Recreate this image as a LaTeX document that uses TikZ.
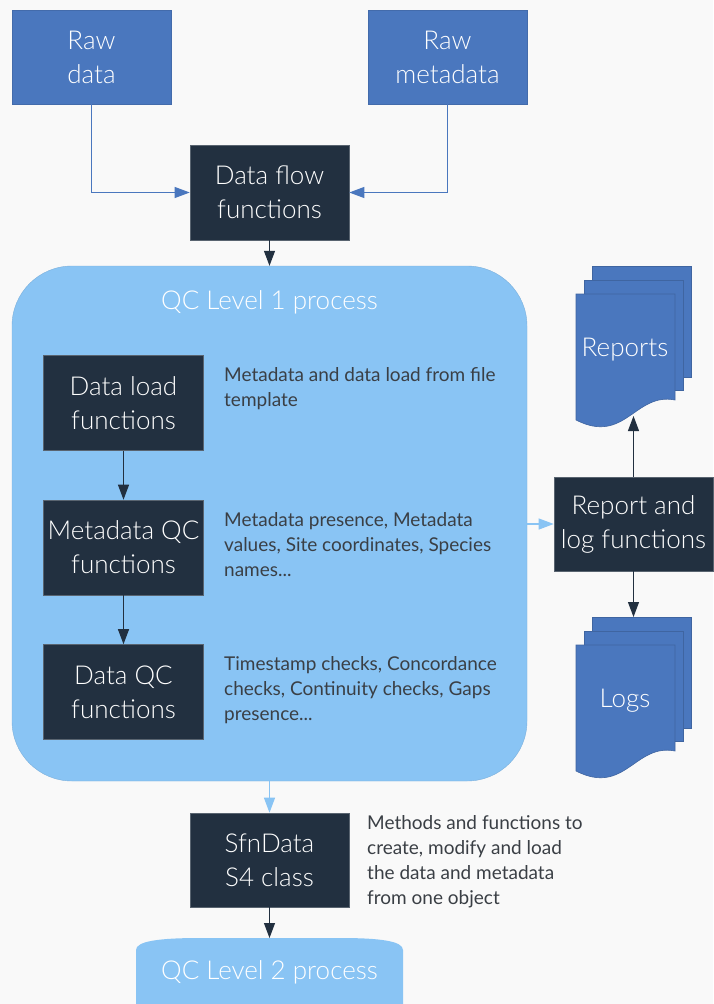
\documentclass[tikz,border=0pt]{standalone}
\usepackage{fontspec}
\setmainfont{Lato}
\newfontfamily\lightfont{Lato Light}
\usetikzlibrary{arrows.meta}
\definecolor{bg}{HTML}{F9F9F9}
\definecolor{rawblue}{HTML}{4A77BE}
\definecolor{navy}{HTML}{223040}
\definecolor{sky}{HTML}{89C4F4}
\definecolor{desc}{HTML}{3A3F45}
\tikzset{
  bigtext/.style={font=\lightfont\fontsize{26}{34}\selectfont},
  rawbox/.style={draw=rawblue!90!black, line width=0.6pt, fill=rawblue, text=white, inner sep=0pt, align=center, minimum height=94pt, minimum width=159pt, bigtext},
  fnbox/.style={draw=navy!75!white, line width=0.6pt, fill=navy, text=white, inner sep=0pt, align=center, minimum height=95pt, minimum width=159pt, bigtext},
  desctext/.style={anchor=north west, inner sep=0pt, align=left, text=desc, font=\fontsize{19}{25}\selectfont},
  bluearrow/.style={draw=rawblue!85!white, line width=1pt, -{Triangle[width=11pt,length=15pt]}, rawblue},
  darkarrow/.style={draw=navy, line width=1.1pt, -{Triangle[width=11pt,length=15pt]}},
  skyarrow/.style={draw=sky, line width=1.1pt, -{Triangle[width=11pt,length=15pt]}},
  docsheet/.style={fill=rawblue, draw=rawblue!85!black, line width=0.6pt},
  docstack/.pic={
    \draw[docsheet] (592,266) rectangle (691,377);
    \draw[docsheet] (584,280) rectangle (683,390);
    \draw[docsheet] (576,294) -- (675,294) -- (675,400) .. controls (635,392) and (625,445) .. (576,420) -- cycle;
  }
}
\begin{document}
\begin{tikzpicture}[x=1pt,y=-1pt]
\fill[bg] (0,0) rectangle (713,1004);
\useasboundingbox (0,0) rectangle (713,1004);

% QC level 1 container
\node[fill=sky, draw=sky!90!black, line width=0.4pt, rounded corners=60pt, minimum width=515pt, minimum height=515pt, inner sep=0pt] (qc1) at (269.5,523.5) {};
\node[text=white, bigtext] (qc1title) at (269.5,302) {QC Level 1 process};

% top
\node[rawbox] (rawdata) at (91.5,57) {Raw\\data};
\node[rawbox] (rawmeta) at (447.5,57) {Raw\\metadata};
\node[fnbox] (dataflow) at (269.5,192.5) {Data flow\\functions};

% inner functions
\node[fnbox, minimum width=160pt] (dataload) at (123.5,403) {Data load\\functions};
\node[fnbox, minimum width=160pt] (metaqc) at (123.5,547.5) {Metadata QC\\functions};
\node[fnbox, minimum width=160pt] (dataqc) at (123.5,692) {Data QC\\functions};

\node[desctext] (d1) at (224,367) {Metadata and data load from file\\template};
\node[desctext] (d2) at (224,512) {Metadata presence, Metadata\\values, Site coordinates, Species\\names...};
\node[desctext] (d3) at (224,656) {Timestamp checks, Concordance\\checks, Continuity checks, Gaps\\presence...};

% report and logs
\node[fnbox, minimum height=94pt] (report) at (633.5,524) {Report and\\log functions};
\pic at (0,0) {docstack};
\pic at (0,351) {docstack};
\node[text=white, bigtext] (reports) at (625,350) {Reports};
\node[text=white, bigtext] (logs) at (625,701) {Logs};
\coordinate (repbottom) at (633.5,416);
\coordinate (logtop) at (633.5,617);

% bottom
\node[fnbox, minimum height=94pt] (sfn) at (269.5,860) {SfnData\\S4 class};
\node[desctext] (d4) at (367,815) {Methods and functions to\\create, modify and load\\the data and metadata\\from one object};
\fill[sky] (136,1004) -- (136,950) .. controls (136,941) and (160,938) .. (200,938) -- (340,938) .. controls (380,938) and (403,941) .. (403,950) -- (403,1004) -- cycle;
\coordinate (qc2top) at (269.5,938);
\node[text=white, bigtext] (qc2) at (269.5,972) {QC Level 2 process};

% connectors
\draw[bluearrow] (rawdata.south) |- (dataflow.west);
\draw[bluearrow] (rawmeta.south) |- (dataflow.east);
\draw[darkarrow] (dataflow.south) -- (qc1.north);
\draw[darkarrow] (dataload.south) -- (metaqc.north);
\draw[darkarrow] (metaqc.south) -- (dataqc.north);
\draw[skyarrow] (qc1.east |- report.west) -- (report.west);
\draw[darkarrow] (report.north) -- (repbottom);
\draw[darkarrow] (report.south) -- (logtop);
\draw[skyarrow] (qc1.south) -- (sfn.north);
\draw[darkarrow] (sfn.south) -- (qc2top);
\end{tikzpicture}
\end{document}
